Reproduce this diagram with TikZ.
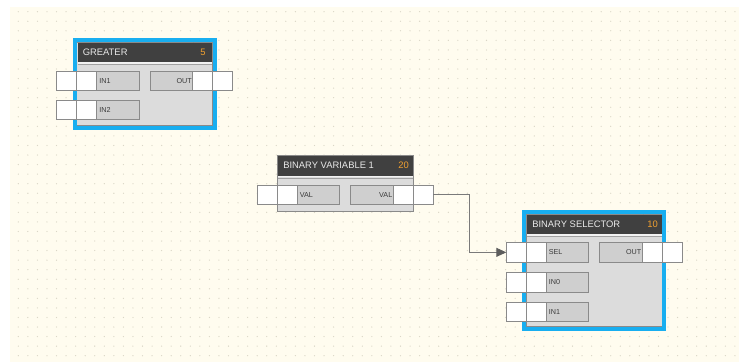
\documentclass[tikz,border=0pt]{standalone}
\usepackage{fontspec}
\setmainfont{Liberation Sans}
\usetikzlibrary{arrows.meta}
\definecolor{cream}{HTML}{FFFCEF}
\definecolor{dotc}{HTML}{DAD6C6}
\definecolor{hdrc}{HTML}{404040}
\definecolor{bodyc}{HTML}{DCDCDC}
\definecolor{bordc}{HTML}{8A8A8A}
\definecolor{lboxc}{HTML}{CFCFCF}
\definecolor{selblue}{HTML}{18AEF0}
\definecolor{numc}{HTML}{F0A030}
\definecolor{txtc}{HTML}{3A3A3A}
\definecolor{htxt}{HTML}{E8E8E8}
\definecolor{wirec}{HTML}{7A7A7A}
\tikzset{
  blkbody/.style={draw=bordc, fill=bodyc, line width=0.9pt, inner sep=0pt, outer sep=0pt, anchor=north west, minimum width=136pt},
  blkhdr/.style={fill=hdrc, inner sep=0pt, outer sep=0pt, anchor=north west, minimum width=134.5pt, minimum height=19.5pt},
  hdrtitle/.style={anchor=west, inner sep=0pt, text=htxt, font=\fontsize{9.4}{10}\selectfont},
  hdrnum/.style={anchor=center, inner sep=0pt, text=numc, font=\fontsize{9.4}{10}\selectfont},
  selframe/.style={draw=selblue, line width=4pt},
  wbox/.style={draw=bordc, fill=white, line width=0.8pt, inner sep=0pt, outer sep=0pt, anchor=north west, minimum width=40pt, minimum height=19.3pt},
  lboxin/.style={draw=bordc, fill=lboxc, line width=0.8pt, outer sep=0pt, inner ysep=0pt, inner xsep=2.5pt, anchor=north west, text width=37.5pt, align=left, minimum height=19.3pt, text=txtc, font=\fontsize{7.2}{8}\selectfont},
  lboxout/.style={lboxin, align=right, inner xsep=1pt, text width=40.5pt, anchor=north east},
  midline/.style={draw=bordc, line width=0.8pt},
  wire/.style={draw=wirec, line width=0.9pt, -{Triangle[length=10pt,width=9pt,fill=hdrc!85,color=hdrc!85]}}
}
\newcommand\fbblock[6]{% name, x, y, height, title, number
  \node[blkbody, minimum height=#4pt] (#1) at (#2,#3) {};
  \node[blkhdr] (#1-hdr) at ({#2+0.8},{#3+0.5}) {};
  \node[hdrtitle] (#1-title) at ([xshift=5pt]#1-hdr.west) {#5};
  \node[hdrnum] (#1-num) at ([xshift=-9pt]#1-hdr.east) {#6};
  \draw[draw=black!75, line width=0.6pt] ([xshift=-18.5pt]#1-hdr.north east) -- ([xshift=-18.5pt]#1-hdr.south east);
  \draw[draw=white!95!black, line width=1.2pt] ([yshift=-1pt]#1-hdr.south west) -- ([yshift=-1pt]#1-hdr.south east);
  \draw[draw=bordc!80, line width=0.6pt] ([yshift=-2.4pt]#1-hdr.south west) -- ([yshift=-2.4pt]#1-hdr.south east);
}
\newcommand\pin[4]{% name, border x, y top, label
  \node[wbox] (#1-w) at ({#2-20},#3) {};
  \draw[midline] (#1-w.north) -- (#1-w.south);
  \node[lboxin] (#1) at ({#2+20},#3) {#4};
}
\newcommand\pout[4]{% name, border x, y top, label
  \node[wbox] (#1-w) at ({#2-20},#3) {};
  \draw[midline] (#1-w.north) -- (#1-w.south);
  \node[lboxout] (#1) at ({#2-20},#3) {#4};
}
\begin{document}
\begin{tikzpicture}[x=1pt,y=-1pt]
\useasboundingbox (0,0) rectangle (739,362);
\fill[white] (0,0) rectangle (739,362);
\fill[cream] (10,7) rectangle (739,362);
\foreach \i in {0,...,75}{
  \foreach \j in {0,...,36}{
    \fill[dotc] ({18.3+\i*9.555},{11.7+\j*9.555}) circle (0.65);
  }
}
% GREATER
\fbblock{gr}{76.8}{42}{83.5}{GREATER}{5}
\draw[selframe] ([shift={(-2,-2)}]gr.north west) rectangle ([shift={(2,2)}]gr.south east);
\pin{gr-in1}{76.8}{71}{IN1}
\pin{gr-in2}{76.8}{100.3}{IN2}
\pout{gr-out}{212.8}{71}{OUT}
% BINARY VARIABLE 1
\fbblock{bv}{277.3}{155.5}{55.5}{BINARY VARIABLE 1}{20}
\pin{bv-in}{277.3}{185}{VAL}
\pout{bv-out}{413.3}{185}{VAL}
% BINARY SELECTOR
\fbblock{bs}{526.3}{214}{112.7}{BINARY SELECTOR}{10}
\draw[selframe] ([shift={(-2,-2)}]bs.north west) rectangle ([shift={(2,2)}]bs.south east);
\pin{bs-sel}{526.3}{242.7}{SEL}
\pin{bs-in0}{526.3}{272.6}{IN0}
\pin{bs-in1}{526.3}{302.3}{IN1}
\pout{bs-out}{662.3}{242.7}{OUT}
% connector
\coordinate (bend) at (469.5,0);
\draw[wire] (bv-out-w.east) -| (bend |- bs-sel-w.west) -- (bs-sel-w.west);
\end{tikzpicture}
\end{document}
